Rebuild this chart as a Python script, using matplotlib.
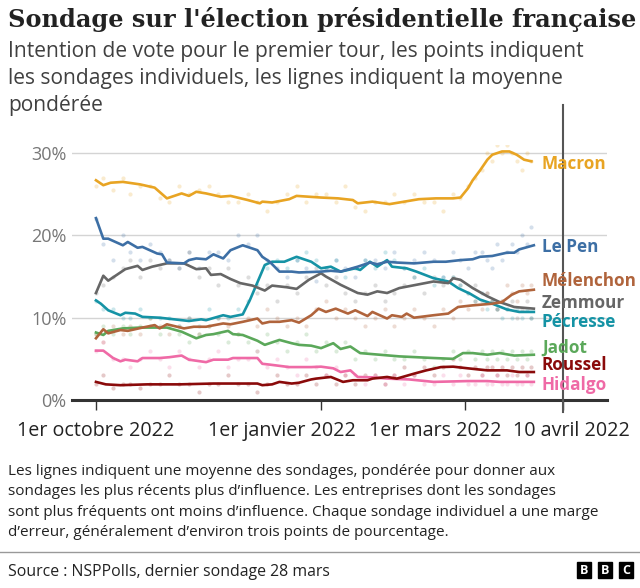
import matplotlib
matplotlib.use("Agg")
import matplotlib.pyplot as plt
from matplotlib.patches import Rectangle
from matplotlib.transforms import ScaledTranslation
import pandas as pd
import numpy as np

# ---------------- data ----------------
start = pd.Timestamp("2021-10-01")
tick_dates = ["2021-10-01", "2022-01-01", "2022-03-01", "2022-04-10"]
tick_labels = ["1er octobre 2022", "1er janvier 2022", "1er mars 2022", "10 avril 2022"]
y_ticks = [0, 10, 20, 30]
y_tick_labels = ["0%", "10%", "20%", "30%"]

candidates = ["Macron", "Le Pen", "Mélenchon", "Zemmour", "Pécresse", "Jadot", "Roussel", "Hidalgo"]
colors = {"Macron": "#e8a423", "Le Pen": "#3d6fa5", "Mélenchon": "#b0643c", "Zemmour": "#666666",
          "Pécresse": "#1593a5", "Jadot": "#5ba85a", "Roussel": "#8a0a0a", "Hidalgo": "#ef6aa6"}

# weighted average lines (days since 1 Oct 2021, %)
macron_days = [0, 3, 6, 11, 18, 24, 29, 35, 38, 41, 45, 51, 55, 62, 67, 68, 72, 79, 82, 92, 99, 105, 107,
               113, 120, 126, 132, 139, 146, 149, 152, 154, 157, 160, 162, 166, 169, 172, 175, 178]
macron_vals = [26.7, 26.1, 26.4, 26.5, 26.2, 25.8, 24.5, 25.1, 24.8, 25.3, 25.1, 24.7, 24.8, 24.3, 23.9, 24.1,
               24.0, 24.4, 24.8, 24.6, 24.5, 24.3, 23.9, 24.1, 23.8, 24.1, 24.4, 24.5, 24.5, 24.6, 25.7, 26.7,
               27.9, 29.2, 29.8, 30.2, 30.2, 29.8, 29.2, 29.0]

lepen_days = [0, 3, 5, 11, 13, 17, 19, 25, 27, 29, 36, 38, 41, 45, 48, 52, 55, 60, 66, 68, 71, 75, 80, 83,
              92, 96, 100, 107, 112, 115, 119, 123, 130, 138, 143, 149, 154, 157, 162, 168, 171, 173, 179]
lepen_vals = [22.1, 19.6, 19.6, 18.8, 19.2, 18.5, 18.6, 17.8, 17.7, 16.7, 16.6, 17.0, 17.2, 17.1, 17.7, 17.2,
              18.2, 18.8, 18.2, 17.4, 16.8, 15.6, 15.6, 15.5, 15.6, 15.7, 15.6, 16.2, 16.7, 16.5, 16.8, 16.7,
              16.6, 16.8, 16.8, 17.0, 17.1, 17.4, 17.5, 17.9, 17.9, 18.3, 18.8]

zemmour_days = [0, 3, 5, 9, 12, 17, 19, 23, 29, 36, 41, 45, 47, 51, 55, 59, 64, 69, 72, 78, 82, 87, 92, 94,
                100, 107, 111, 115, 119, 124, 131, 138, 144, 146, 149, 154, 160, 165, 171, 179]
zemmour_vals = [13.0, 15.1, 14.5, 15.3, 15.9, 16.3, 15.8, 16.2, 16.6, 16.6, 15.9, 16.0, 15.2, 15.3, 14.7,
                14.2, 13.9, 13.3, 13.9, 13.7, 13.5, 14.6, 15.4, 15.0, 14.0, 13.0, 12.8, 13.2, 13.0, 13.6,
                14.0, 14.4, 14.2, 14.8, 14.6, 13.6, 12.6, 11.9, 11.3, 11.1]

pecresse_days = [0, 2, 5, 10, 12, 16, 19, 26, 32, 38, 43, 45, 52, 55, 60, 63, 67, 69, 72, 77, 82, 84, 88,
                 92, 96, 100, 106, 108, 112, 115, 119, 121, 127, 131, 138, 144, 148, 153, 157, 162, 168, 173, 179]
pecresse_vals = [12.1, 11.7, 10.9, 10.3, 10.6, 10.5, 10.1, 10.0, 9.8, 9.6, 9.8, 9.7, 10.3, 10.1, 10.4, 12.2,
                 15.0, 16.4, 16.8, 16.8, 17.4, 17.2, 16.8, 16.0, 16.2, 15.6, 16.0, 15.8, 16.8, 16.2, 17.0,
                 16.2, 16.0, 15.6, 14.8, 14.4, 13.6, 12.9, 12.2, 11.7, 11.0, 10.7, 10.7]

melenchon_days = [0, 3, 5, 10, 13, 19, 24, 26, 29, 36, 40, 45, 52, 55, 60, 66, 68, 71, 75, 80, 83, 88, 91,
                  94, 98, 103, 106, 111, 113, 119, 121, 125, 127, 130, 138, 144, 148, 154, 162, 166, 170, 173, 179]
melenchon_vals = [7.5, 8.6, 8.1, 8.5, 8.4, 8.8, 9.1, 8.7, 9.2, 8.7, 8.9, 8.9, 9.3, 9.2, 9.5, 9.9, 9.3, 9.5,
                  9.5, 9.7, 9.4, 10.3, 11.1, 10.7, 11.1, 10.5, 10.9, 10.2, 10.7, 9.9, 10.3, 10.1, 10.5, 10.0,
                  10.3, 10.5, 11.3, 11.5, 11.7, 11.9, 12.8, 13.2, 13.4]

jadot_days = [0, 3, 5, 11, 18, 29, 35, 41, 45, 48, 54, 56, 60, 66, 69, 75, 80, 83, 88, 92, 97, 100, 104,
              108, 116, 124, 138, 146, 150, 154, 160, 165, 171, 179]
jadot_vals = [8.2, 7.9, 8.4, 8.7, 8.8, 8.8, 8.3, 7.5, 7.9, 8.0, 8.4, 8.0, 7.9, 7.2, 6.7, 7.3, 6.9, 6.7, 6.6,
              6.3, 6.9, 6.2, 6.5, 5.7, 5.5, 5.3, 5.1, 5.0, 5.7, 5.7, 5.5, 5.7, 5.4, 5.5]

hidalgo_days = [0, 3, 7, 10, 12, 17, 19, 26, 30, 35, 38, 45, 48, 54, 56, 66, 68, 71, 79, 88, 92, 97, 100,
                104, 107, 113, 119, 128, 138, 152, 160, 165, 172, 179]
hidalgo_vals = [6.0, 6.0, 5.1, 4.7, 4.9, 4.7, 5.1, 5.1, 5.2, 5.4, 4.9, 4.6, 4.9, 4.9, 5.1, 5.1, 4.4, 4.3, 4.0,
                4.0, 4.05, 3.85, 3.4, 3.6, 2.8, 2.75, 2.6, 2.5, 2.2, 2.3, 2.3, 2.2, 2.2, 2.2]

roussel_days = [0, 4, 10, 21, 34, 48, 66, 68, 72, 75, 80, 83, 88, 90, 96, 101, 105, 111, 113, 119, 123, 130,
                135, 141, 146, 152, 160, 168, 173, 179]
roussel_vals = [2.2, 1.9, 1.8, 1.9, 1.9, 2.0, 2.0, 1.8, 1.9, 2.2, 2.0, 2.1, 2.5, 2.6, 2.8, 2.2, 2.4, 2.4, 2.6,
                2.8, 2.6, 3.2, 3.6, 4.0, 4.05, 3.85, 3.6, 3.6, 3.4, 3.4]

# individual polls (days since 1 Oct 2021)
poll_days = [0, 3, 7, 11, 14, 18, 22, 26, 30, 34, 38, 42, 46, 50, 54, 58, 62, 66, 70, 74, 78, 82, 86, 90, 94,
             98, 102, 106, 110, 114, 118, 122, 126, 130, 134, 138, 142, 146, 149, 152, 155, 158, 160, 162,
             164, 166, 168, 170, 172, 174, 176, 178]
poll_macron = [26, 27, 25.5, 27, 25, 26, 26, 24.5, 24, 26, 25, 25.5, 26, 25, 24, 24, 25, 24, 23, 24, 25, 26,
               24, 25, 25, 24, 26, 23.5, 23, 24, 24, 25, 24, 25, 24, 24, 23, 25, 24.5, 26, 27, 28, 30, 29, 31,
               30, 31, 30, 29, 28, 30, 29]
poll_lepen = [22, 19, 17, 20, 18, 17, 19, 18, 17, 16, 18, 16, 18, 18, 17, 20, 19, 20, 17, 16, 15, 17, 16,
              14.5, 16, 17, 16, 15, 17, 17, 16, 18, 16, 17, 18, 17, 15, 18, 17, 16, 18, 18, 17, 16, 19, 17,
              18, 19, 18, 20, 19, 21]
poll_zemmour = [13, 14, 15, 16, 17, 15, 17, 16, 17, 16, 18, 15, 16, 14, 16, 14, 15, 13, 14, 12, 14, 13, 15,
                16, 14, 15, 13, 12, 13, 14, 12, 13, 14, 15, 13, 15, 14, 15, 14, 13, 14, 12, 13, 12, 11, 12,
                11, 12, 10, 11, 12, 10]
poll_pecresse = [12, 11, 11, 10, 10, 11, 9, 10, 10, 9, 10, 9, 11, 10, 10, 11, 12, 14, 16, 17, 16, 17, 18, 17,
                 16, 17, 15, 16, 17, 16, 18, 17, 16, 15, 16, 14, 15, 15, 14, 13, 12, 13, 11, 12, 11, 10, 11,
                 10, 11, 10, 11, 10]
poll_melenchon = [8, 7, 9, 8, 9, 8, 10, 9, 8, 9, 10, 8, 9, 10, 9, 8, 10, 9, 11, 10, 9, 10, 9, 11, 12, 10, 11,
                  10, 9, 10, 11, 9, 10, 11, 10, 9, 11, 10, 12, 11, 12, 11, 13, 12, 11, 12, 14, 13, 12, 14, 13, 14]
poll_jadot = [8, 9, 8, 9, 8, 9, 10, 8, 9, 8, 7, 8, 9, 8, 7, 8, 7, 6, 8, 7, 6, 7, 8, 6, 7, 6, 7, 5, 6, 5, 6,
              5, 5, 6, 5, 4, 5, 6, 5, 6, 5, 6, 5, 6, 5, 6, 5, 6, 5, 6, 5, 6]
poll_hidalgo = [6, 7, 5, 5, 4, 5, 6, 5, 4, 6, 5, 4, 5, 6, 4, 5, 5, 6, 4, 5, 4, 3, 5, 4, 3, 4, 3, 3, 2, 3, 2,
                3, 2, 3, 2, 2, 3, 2, 3, 2, 2, 3, 2, 2, 3, 2, 2, 3, 2, 2, 3, 2]
poll_roussel = [2, 3, 1.5, 2, 2, 1.5, 2, 2, 3, 2, 2, 1, 2, 2, 3, 2, 2, 1, 2, 3, 2, 2, 3, 2, 3, 2, 3, 2, 3, 3,
                2, 3, 4, 3, 4, 3, 4, 5, 4, 3, 4, 3, 4, 4, 3, 4, 3, 4, 3, 4, 3, 4]

lines = {"Macron": (macron_days, macron_vals), "Le Pen": (lepen_days, lepen_vals),
         "Mélenchon": (melenchon_days, melenchon_vals), "Zemmour": (zemmour_days, zemmour_vals),
         "Pécresse": (pecresse_days, pecresse_vals), "Jadot": (jadot_days, jadot_vals),
         "Roussel": (roussel_days, roussel_vals), "Hidalgo": (hidalgo_days, hidalgo_vals)}
polls = {"Macron": poll_macron, "Le Pen": poll_lepen, "Mélenchon": poll_melenchon, "Zemmour": poll_zemmour,
         "Pécresse": poll_pecresse, "Jadot": poll_jadot, "Roussel": poll_roussel, "Hidalgo": poll_hidalgo}
label_y = {"Macron": 28.7, "Le Pen": 18.6, "Mélenchon": 14.5, "Zemmour": 11.8, "Pécresse": 9.5,
           "Jadot": 6.3, "Roussel": 4.3, "Hidalgo": 1.8}

# ---------------- figure ----------------
W, H = 640, 588
fig = plt.figure(figsize=(W / 100, H / 100), dpi=100)
fig.patch.set_facecolor("white")
SANS = ["Open Sans", "DejaVu Sans"]

def fx(x):
    return x / W

def fy(y):
    return 1 - y / H

ax = fig.add_axes([fx(72), fy(400), (607 - 72) / W, (400 - 145) / H])
ax.set_xlim(-9.8, 208.9)
ax.set_ylim(0, 255 / 8.23)

for c in candidates:
    ax.scatter(poll_days, polls[c], s=9, color=colors[c], alpha=0.22, linewidths=0, zorder=2)
for c in reversed(candidates):
    d, v = lines[c]
    ax.plot(d, v, color=colors[c], lw=1.9, zorder=3, solid_joinstyle="round")
    ax.text(182.3, label_y[c], c, color=colors[c], fontsize=12.3, fontweight="bold",
            family=SANS, va="center", ha="left", zorder=6)

ax.set_yticks(y_ticks)
ax.set_yticklabels(y_tick_labels, family=SANS, fontsize=13, color="#777777")
ax.yaxis.grid(True, color="#d4d4d4", lw=1)
ax.set_axisbelow(True)
ax.tick_params(axis="y", length=0, pad=4)

tick_pos = [(pd.Timestamp(t) - start).days for t in tick_dates]
ax.set_xticks(tick_pos)
ax.set_xticklabels(tick_labels, family=SANS, fontsize=14.2, color="#222222")
ax.tick_params(axis="x", length=7, width=1, color="#333333", pad=8)
# labels are nudged sideways so they do not collide (as in the original)
label_shift_px = [0, -39, -30, 8]
for lab, dx in zip(ax.get_xticklabels(), label_shift_px):
    lab.set_transform(lab.get_transform() + ScaledTranslation(dx / 100, 0, fig.dpi_scale_trans))
for s in ax.spines.values():
    s.set_visible(False)
ax.axhline(0, color="#333333", lw=2.2, zorder=4, clip_on=False)
ax.axvline(tick_pos[3], ymin=-0.047, ymax=1.157, color="#555555", lw=1.5, zorder=5, clip_on=False)

# ---------------- texts ----------------
fig.text(fx(8), fy(27), "Sondage sur l'élection présidentielle française", family=["DejaVu Serif"],
         fontweight="bold", fontsize=17.3, color="#222222", va="baseline")
for i, line in enumerate(["Intention de vote pour le premier tour, les points indiquent",
                          "les sondages individuels, les lignes indiquent la moyenne",
                          "pondérée"]):
    fig.text(fx(8), fy(57 + 27 * i), line, family=SANS, fontsize=15.1, color="#404040", va="baseline")

notes = ["Les lignes indiquent une moyenne des sondages, pondérée pour donner aux",
         "sondages les plus récents plus d\u2019influence. Les entreprises dont les sondages",
         "sont plus fréquents ont moins d\u2019influence. Chaque sondage individuel a une marge",
         "d\u2019erreur, généralement d\u2019environ trois points de pourcentage."]
for i, line in enumerate(notes):
    fig.text(fx(8), fy(475 + 20.3 * i), line, family=SANS, fontsize=11, color="#222222", va="baseline")

fig.add_artist(plt.Line2D([0, 1], [fy(552), fy(552)], color="#999999", lw=1))
fig.text(fx(8), fy(576), "Source : NSPPolls, dernier sondage 28 mars", family=SANS, fontsize=11.4,
         color="#222222", va="baseline")

for i, letter in enumerate("BBC"):
    x0 = 577 + 21 * i
    fig.add_artist(Rectangle((fx(x0), fy(578)), 14 / W, 16 / H, color="black", transform=fig.transFigure))
    fig.text(fx(x0 + 7), fy(570), letter, family=SANS, fontsize=9, fontweight="bold", color="white",
             ha="center", va="center")

fig.savefig("out.png", dpi=100, facecolor="white")
